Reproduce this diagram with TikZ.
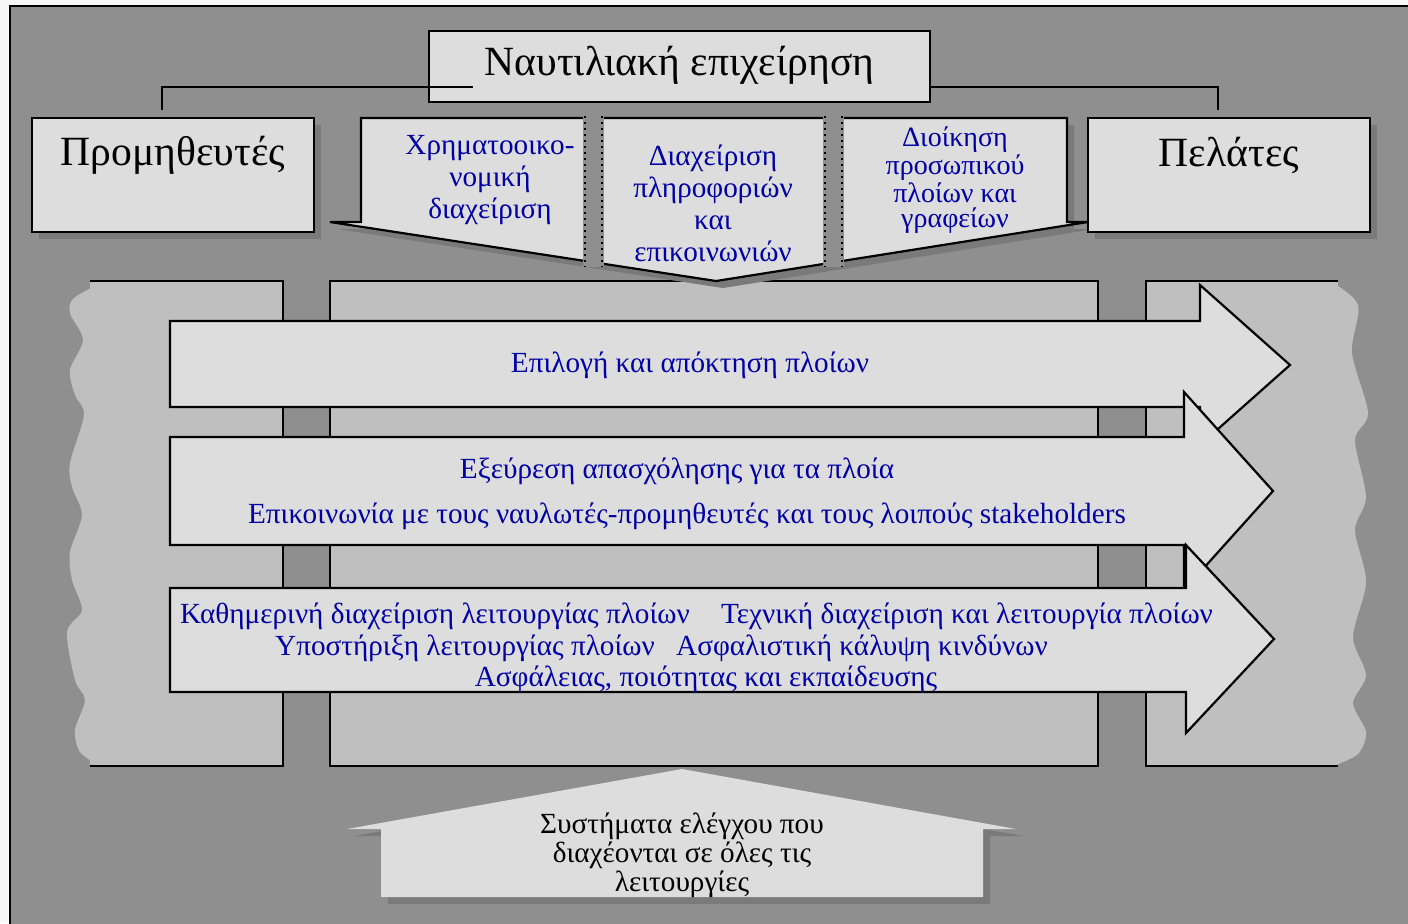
\documentclass[tikz,border=0pt]{standalone}
\usepackage{fontspec}
\setmainfont{Liberation Serif}
\usetikzlibrary{shadows}

\definecolor{bggray}{RGB}{143,143,143}
\definecolor{boxfill}{RGB}{221,221,221}
\definecolor{colfill}{RGB}{191,191,191}
\definecolor{shadowgray}{RGB}{122,122,122}
\definecolor{textblue}{RGB}{0,0,165}

\tikzset{
  box/.style={draw, line width=1.1pt, fill=boxfill, inner sep=0pt},
  boxshadow/.style={drop shadow={shadow xshift=3.5pt, shadow yshift=-3.5pt, fill=shadowgray, opacity=1}},
  bigtxt/.style={font=\fontsize{20.8}{24}\selectfont},
  bluetxt/.style={text=textblue, align=center, font=\fontsize{14.6}{16}\selectfont},
  conn/.style={line width=1.1pt},
  colline/.style={line width=1.1pt},
  arrowbox/.style={draw, line width=1.1pt, fill=boxfill, line join=miter}
}

\begin{document}
\begin{tikzpicture}[x=0.5pt,y=-0.5pt]

    \useasboundingbox (0,0) rectangle (1408,923);
    \clip (0,0) rectangle (1408,923);

    % Page and grey frame
    \fill[white!97!black] (0,0) rectangle (1408,923);
    \draw[line width=1.2pt, fill=bggray] (10,6) rectangle (1430,950);

    % Columns behind the arrows
    \fill[colfill] (90,281) rectangle (283,766);
    \fill[colfill] (1146,281) rectangle (1338,766);
    \draw[colline, fill=colfill] (330,281) rectangle (1098,766);

    % Torn edges left and right
    \fill[colfill] plot[smooth] coordinates {(105,281) (74,298) (70,313) (83,340) (70,370) (75,395)
        (84,415) (70,463) (72,487) (82,515) (70,552) (72,580) (82,610) (67,632) (75,680)
        (85,700) (75,730) (80,752) (100,766)} -- (110,766) -- (110,281) -- cycle;
    \fill[colfill] plot[smooth] coordinates {(1330,281) (1358,305) (1352,353) (1368,413)
        (1355,440) (1366,497) (1355,530) (1366,582) (1353,637) (1366,675) (1353,703)
        (1366,732) (1358,754) (1333,766)} -- (1320,766) -- (1320,281) -- cycle;
    \draw[colline] (90,281) -- (283,281) -- (283,766) -- (90,766);
    \draw[colline] (1338,281) -- (1146,281) -- (1146,766) -- (1338,766);

    % Three process arrows (loop)
    \foreach \bt/\bb/\hx/\ht/\hb/\tx in {321/407/1200/285/445/1290,
                                         437/545/1184/392/590/1273,
                                         588/692/1186/545/733/1274}
        \draw[arrowbox] (170,\bt) -- (\hx,\bt) -- (\hx,\ht) -- ({\tx},{(\ht+\hb)/2})
            -- (\hx,\hb) -- (\hx,\bb) -- (170,\bb) -- cycle;

    % Arrow texts
    \node[bluetxt] (select) at (690,365) {Επιλογή και απόκτηση πλοίων};
    \node[bluetxt] (employ) at (677,471) {Εξεύρεση απασχόλησης για τα πλοία};
    \node[bluetxt] (contact) at (687,516)
        {Επικοινωνία με τους ναυλωτές-προμηθευτές και τους λοιπούς stakeholders};
    \node[bluetxt] (daily) at (435,616) {Καθημερινή διαχείριση λειτουργίας πλοίων};
    \node[bluetxt] (tech) at (967,616) {Τεχνική διαχείριση και λειτουργία πλοίων};
    \node[bluetxt] (support) at (465,648) {Υποστήριξη λειτουργίας πλοίων};
    \node[bluetxt] (insure) at (862,648) {Ασφαλιστική κάλυψη κινδύνων};
    \node[bluetxt] (safety) at (706,679) {Ασφάλειας, ποιότητας και εκπαίδευσης};

    % Company functions pointing down
    \filldraw[boxshadow, line width=1.1pt, fill=boxfill, line join=miter]
        (361,118) -- (1067,118) -- (1067,222) -- (1088,222) -- (716,281)
        -- (330,222) -- (361,222) -- cycle;
    \foreach \x in {583,823} {
        \fill[bggray] (\x,116) rectangle (\x+21,267);
        \draw[dotted, line width=1pt] (\x+2,116) -- (\x+2,267);
        \draw[dotted, line width=1pt] (\x+19,116) -- (\x+19,267);
    }
    \node[bluetxt] (finance) at (490,180) {Χρηματοοικο-\\νομική\\διαχείριση};
    \node[bluetxt] (info) at (713,203) {Διαχείριση\\πληροφοριών\\και\\επικοινωνιών};
    \node[bluetxt, font=\fontsize{14}{12.5}\selectfont] (staff) at (955,180)
        {Διοίκηση\\προσωπικού\\πλοίων και\\γραφείων};

    % Company, suppliers, customers
    \node[box, minimum width=250.5pt, minimum height=35.5pt] (company) at (679.5,66.5) {};
    \node[bigtxt] (companylbl) at (679.5,65) {Ναυτιλιακή επιχείρηση};
    \node[box, boxshadow, minimum width=141pt, minimum height=57pt] (sup) at (173,175) {};
    \node[bigtxt] (suplbl) at (173,155) {Προμηθευτές};
    \node[box, boxshadow, minimum width=141pt, minimum height=57pt] (cust) at (1229,175) {};
    \node[bigtxt] (custlbl) at (1229,155) {Πελάτες};

    % Connectors
    \coordinate (cl) at (473,87);
    \coordinate (sl) at (162,110);
    \coordinate (cr) at (930,87);
    \coordinate (rl) at (1218,110);
    \draw[conn] (cl) -| (sl);
    \draw[conn] (cr) -| (rl);

    % Control systems arrow pointing up
    \fill[boxfill, boxshadow] (682,769) -- (1016,829) -- (983,829) -- (983,897)
        -- (381,897) -- (381,829) -- (347,829) -- cycle;
    \node[align=center, font=\fontsize{14.6}{13}\selectfont] (control) at (682,855)
        {Συστήματα ελέγχου που\\διαχέονται σε όλες τις\\λειτουργίες};

\end{tikzpicture}
\end{document}
